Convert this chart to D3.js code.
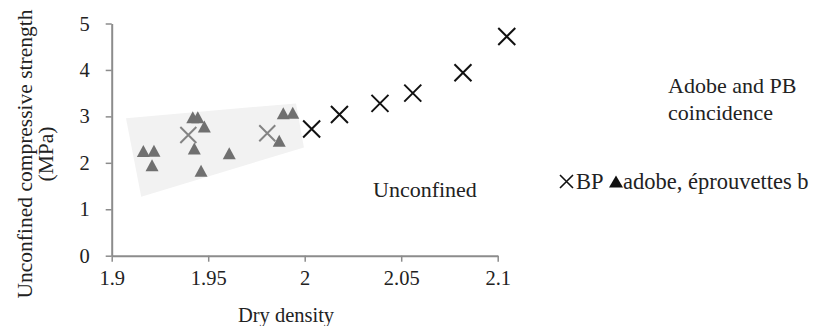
<!DOCTYPE html>
<html>
<head>
<meta charset="utf-8">
<script src="https://cdn.jsdelivr.net/npm/d3@7"></script>
<style>
  html, body { margin: 0; padding: 0; background: #fff; }
  svg { display: block; }
  svg text { font-family: "Liberation Serif", "Times New Roman", serif; }
</style>
</head>
<body>
<svg id="chart" width="814" height="326"></svg>
<script>
// Pressed blocks (BP): dry density vs unconfined compressive strength (MPa)
const bpDensity  = [2.0036, 2.018, 2.039, 2.056, 2.082, 2.1047];
const bpStrength = [2.73, 3.04, 3.28, 3.50, 3.94, 4.72];

// Pressed blocks that fall inside the adobe range
const bpOverlapDensity  = [1.9397, 1.9806];
const bpOverlapStrength = [2.60, 2.635];

// Adobe specimens (éprouvettes b)
const adobeDensity  = [1.9164, 1.9219, 1.9209, 1.942, 1.9446, 1.948, 1.9428, 1.9463, 1.9609, 1.9889, 1.9938, 1.9868];
const adobeStrength = [2.255, 2.26, 1.95, 2.98, 2.98, 2.78, 2.31, 1.83, 2.205, 3.066, 3.08, 2.476];

// Shaded zone where adobe and BP results coincide (density, strength)
const zoneDensity  = [1.9074, 1.9955, 1.9996, 1.9153];
const zoneStrength = [2.96, 3.28, 2.33, 1.27];

const xTicks = [1.9, 1.95, 2, 2.05, 2.1];
const yTicks = [0, 1, 2, 3, 4, 5];

const FONT = "Liberation Serif, Times New Roman, serif";
const svg = d3.select("#chart");
const x = d3.scaleLinear().domain([1.9, 2.1]).range([111.7, 497.7]);
const y = d3.scaleLinear().domain([0, 5]).range([255.7, 23.5]);

const axisColor = "#8c8c8c";

// coincidence zone
svg.append("path")
  .attr("d", d3.line().x(d => x(d[0])).y(d => y(d[1])).curve(d3.curveLinearClosed)(
    d3.zip(zoneDensity, zoneStrength)))
  .attr("fill", "#f2f2f2");

// axes
const xAxis = svg.append("g").attr("transform", `translate(0,${y(0)})`)
  .call(d3.axisBottom(x).tickValues(xTicks).tickSize(6).tickSizeOuter(0)
    .tickFormat(d => String(+d.toFixed(2))));
const yAxis = svg.append("g").attr("transform", `translate(${x(1.9)},0)`)
  .call(d3.axisLeft(y).tickValues(yTicks).tickSize(6).tickSizeOuter(0)
    .tickFormat(d3.format("d")));

[xAxis, yAxis].forEach(g => {
  g.attr("font-family", FONT);
  g.select(".domain").attr("stroke", axisColor).attr("stroke-width", 2);
  g.selectAll(".tick line").attr("stroke", axisColor).attr("stroke-width", 1.5);
  g.selectAll(".tick text").attr("fill", "#222").attr("font-size", 20.5)
    .attr("font-family", FONT);
});
xAxis.selectAll(".tick text").attr("dy", "1.05em").attr("y", 8);
yAxis.selectAll(".tick text").attr("x", -22);

// triangle centred on its bounding box
function tri(cx, cy, w, h) {
  return `M${cx},${cy - h / 2}L${cx + w / 2},${cy + h / 2}L${cx - w / 2},${cy + h / 2}Z`;
}
function cross(cx, cy, r) {
  return `M${cx - r},${cy - r}L${cx + r},${cy + r}M${cx - r},${cy + r}L${cx + r},${cy - r}`;
}

// adobe triangles
svg.append("g").selectAll("path")
  .data(d3.zip(adobeDensity, adobeStrength))
  .join("path")
  .attr("d", d => tri(x(d[0]), y(d[1]), 13, 12))
  .attr("fill", "#707070");

// BP crosses inside the zone
svg.append("g").selectAll("path")
  .data(d3.zip(bpOverlapDensity, bpOverlapStrength))
  .join("path")
  .attr("d", d => cross(x(d[0]), y(d[1]), 8))
  .attr("stroke", "#848484").attr("stroke-width", 2).attr("fill", "none");

// BP crosses
svg.append("g").selectAll("path")
  .data(d3.zip(bpDensity, bpStrength))
  .join("path")
  .attr("d", d => cross(x(d[0]), y(d[1]), 8.5))
  .attr("stroke", "#111").attr("stroke-width", 2).attr("fill", "none");

function label(sel, size) {
  return sel.append("text").attr("font-family", FONT).attr("fill", "#222").attr("font-size", size);
}

// axis titles
label(svg, 20.5).attr("x", 286).attr("y", 321.5).attr("text-anchor", "middle").text("Dry density");
const yt = label(svg, 21.5).attr("transform", "translate(32,154) rotate(-90)").attr("text-anchor", "middle");
yt.append("tspan").attr("x", 0).attr("y", 0).text("Unconfined compressive strength");
yt.append("tspan").attr("x", 0).attr("y", 21).text("(MPa)");

// annotations
label(svg, 22).attr("x", 373).attr("y", 196.5).text("Unconfined");
const ann = label(svg, 22);
ann.append("tspan").attr("x", 668).attr("y", 93).text("Adobe and PB");
ann.append("tspan").attr("x", 668).attr("y", 120).text("coincidence");

// legend
const lg = svg.append("g");
lg.append("path").attr("d", cross(566.5, 181.5, 6.5)).attr("stroke", "#111").attr("stroke-width", 1.6);
label(lg, 22.5).attr("x", 576).attr("y", 188.5).text("BP");
lg.append("path").attr("d", tri(616, 181.5, 14, 12)).attr("fill", "#111");
label(lg, 22.5).attr("x", 623).attr("y", 188.5).text("adobe, éprouvettes b");
</script>
</body>
</html>
